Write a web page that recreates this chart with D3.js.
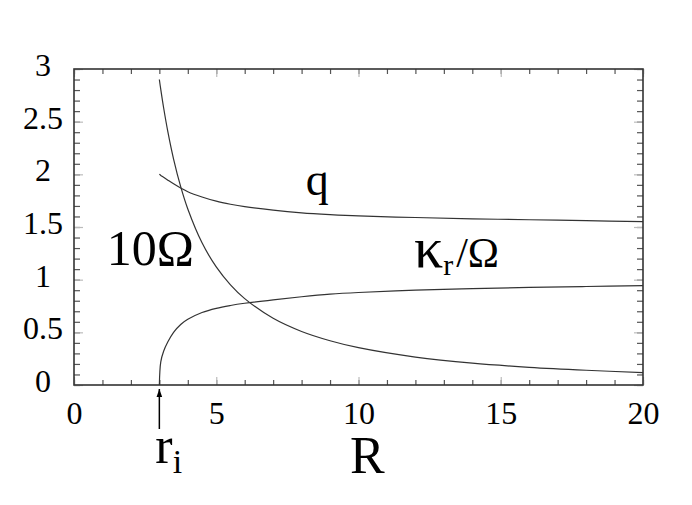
<!DOCTYPE html>
<html>
<head>
<meta charset="utf-8">
<script src="https://cdn.jsdelivr.net/npm/d3@7"></script>
<style>
  body { margin: 0; background: #fff; }
  svg { display: block; }
  svg text { font-family: 'Liberation Serif', 'Times New Roman', Tinos, 'Nimbus Roman', 'FreeSerif', 'Noto Serif', 'DejaVu Serif', serif !important; }
</style>
</head>
<body>
<svg id="chart" width="692" height="505"></svg>
<script>
// radius samples (inner edge r_i = 3)
const radius = [3, 3.05, 3.15, 3.3, 3.5, 3.75, 4, 4.5, 5, 5.5, 6, 7, 8, 9, 10, 12, 14, 16, 18, 20];
// shear parameter q
const qValues = [2.0, 1.99, 1.972, 1.945, 1.91, 1.87, 1.835, 1.785, 1.745, 1.716, 1.693, 1.66, 1.635, 1.618, 1.605, 1.59, 1.578, 1.569, 1.56, 1.551];
// 10 * angular velocity
const omega10 = [2.90, 2.806, 2.632, 2.403, 2.145, 1.883, 1.671, 1.35, 1.121, 0.951, 0.82, 0.633, 0.508, 0.42, 0.354, 0.265, 0.207, 0.168, 0.14, 0.118];
// epicyclic frequency over Omega
const kappaRatio = [0, 0.22, 0.32, 0.41, 0.5, 0.575, 0.624, 0.688, 0.728, 0.755, 0.776, 0.809, 0.838, 0.862, 0.878, 0.9, 0.915, 0.926, 0.935, 0.943];

const ri = 3;
const xLabels = [0, 5, 10, 15, 20];
const yLabels = [0, 0.5, 1, 1.5, 2, 2.5, 3];

const margin = {top: 69, right: 49, bottom: 120, left: 74};
const width = 692 - margin.left - margin.right;
const height = 505 - margin.top - margin.bottom;

const svg = d3.select('#chart');
const g = svg.append('g')
    .attr('transform', `translate(${margin.left},${margin.top})`);

const x = d3.scaleLinear().domain([0, 20]).range([0, width]);
const y = d3.scaleLinear().domain([0, 3]).range([height, 0]);

// minor ticks, all four sides, pointing inward
const minorX = d3.range(0, 21);
const minorY = d3.range(0, 31).map(d => d / 10);

function styleTicks(sel, color) {
    sel.select('.domain').remove();
    sel.attr('font-family', null);
    sel.selectAll('.tick line').attr('stroke', color).attr('stroke-width', 1.2);
}

g.append('g').attr('transform', `translate(0,${height})`)
    .call(d3.axisBottom(x).tickValues(minorX).tickSize(-5).tickFormat(''))
    .call(s => styleTicks(s, '#555'));
g.append('g')
    .call(d3.axisTop(x).tickValues(minorX).tickSize(-5).tickFormat(''))
    .call(s => styleTicks(s, '#555'));
g.append('g')
    .call(d3.axisLeft(y).tickValues(minorY).tickSize(-6).tickFormat(''))
    .call(s => styleTicks(s, '#555'));
g.append('g').attr('transform', `translate(${width},0)`)
    .call(d3.axisRight(y).tickValues(minorY).tickSize(-6).tickFormat(''))
    .call(s => styleTicks(s, '#555'));

// major ticks with labels
const xAxis = g.append('g').attr('transform', `translate(0,${height})`)
    .call(d3.axisBottom(x).tickValues(xLabels).tickSizeInner(-8).tickSizeOuter(0).tickPadding(16))
    .call(s => styleTicks(s, '#bbb'));
xAxis.selectAll('text')
    .style('font-size', '32px')
    .attr('fill', '#000');

g.append('g')
    .call(d3.axisTop(x).tickValues(xLabels).tickSize(-8).tickFormat(''))
    .call(s => styleTicks(s, '#bbb'));

const yAxis = g.append('g')
    .call(d3.axisLeft(y).tickValues(yLabels).tickSizeInner(-9).tickSizeOuter(0).tickFormat(d3.format('')))
    .call(s => styleTicks(s, '#bbb'));
yAxis.selectAll('text')
    .style('font-size', '32px')
    .attr('fill', '#000')
    .attr('text-anchor', 'middle')
    .attr('x', -31)
    .attr('dy', '0.2em');

g.append('g').attr('transform', `translate(${width},0)`)
    .call(d3.axisRight(y).tickValues(yLabels).tickSize(-9).tickFormat(''))
    .call(s => styleTicks(s, '#bbb'));

// frame
g.append('rect')
    .attr('width', width)
    .attr('height', height)
    .attr('fill', 'none')
    .attr('stroke', '#333')
    .attr('stroke-width', 1.6);

// curves
const line = d3.line()
    .x((d, i) => x(radius[i]))
    .y(d => y(d))
    .curve(d3.curveCatmullRom.alpha(0.5));

[qValues, omega10, kappaRatio].forEach(function (series) {
    g.append('path')
        .datum(series)
        .attr('d', line)
        .attr('fill', 'none')
        .attr('stroke', '#333')
        .attr('stroke-width', 1.2);
});

// curve labels
const labels = g.append('g').attr('fill', '#000');

labels.append('text')
    .attr('x', x(1.15)).attr('y', y(1.14))
    .style('font-size', '50px')
    .text('10Ω');

labels.append('text')
    .attr('x', x(8.15)).attr('y', y(1.8))
    .style('font-size', '46px')
    .text('q');

const kl = labels.append('text')
    .attr('x', x(11.95)).attr('y', y(1.12))
    .style('font-size', '42px');
kl.append('tspan').style('font-size', '58px').text('κ');
kl.append('tspan').style('font-size', '30px').attr('dy', 8).text('r');
kl.append('tspan').attr('dy', -8).attr('dx', 3).text('/Ω');

// inner radius marker
svg.append('defs').append('marker')
    .attr('id', 'arrow')
    .attr('viewBox', '0 0 10 10')
    .attr('refX', 10).attr('refY', 5)
    .attr('markerWidth', 11).attr('markerHeight', 8)
    .attr('markerUnits', 'userSpaceOnUse')
    .attr('orient', 'auto')
    .append('path')
    .attr('d', 'M0,1.5L10,5L0,8.5Z')
    .attr('fill', '#000');

g.append('line')
    .attr('x1', x(ri)).attr('x2', x(ri))
    .attr('y1', height + 44).attr('y2', height + 4)
    .attr('stroke', '#000')
    .attr('stroke-width', 1.5)
    .attr('marker-end', 'url(#arrow)');

const rl = labels.append('text')
    .attr('x', x(ri) - 4).attr('y', height + 78)
    .style('font-size', '52px');
rl.append('tspan').text('r');
rl.append('tspan').style('font-size', '34px').attr('dy', 10).text('i');

// axis title
labels.append('text')
    .attr('x', x(9.7)).attr('y', height + 88)
    .style('font-size', '52px')
    .text('R');
</script>
</body>
</html>
